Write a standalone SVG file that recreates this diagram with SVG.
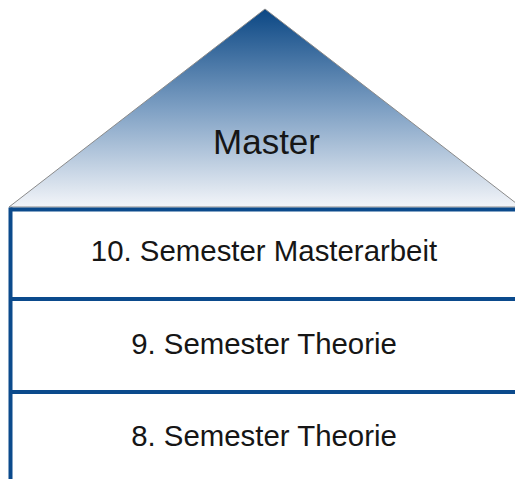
<svg xmlns="http://www.w3.org/2000/svg" width="515" height="479" viewBox="0 0 515 479">
<defs>
<linearGradient id="roofGrad" x1="0" y1="0" x2="0" y2="1">
<stop offset="0" stop-color="#0b4784"/>
<stop offset="0.5" stop-color="#7d9fc3"/>
<stop offset="1" stop-color="#f3f5f9"/>
</linearGradient>
</defs>
<style>
.lbl{font-family:"Liberation Sans",Arial,sans-serif;fill:#161616;text-anchor:middle}
.band{stroke:#0b4a8c;stroke-width:4;fill:none}
</style>
<g id="roof">
<polygon points="265,9 9,207 521,207" fill="url(#roofGrad)" stroke="#8a8a8a" stroke-width="1"/>
<text class="lbl" x="266.5" y="154" font-size="35">Master</text>
</g>
<g id="sem10">
<text class="lbl" x="264" y="261" font-size="29.4">10. Semester Masterarbeit</text>
</g>
<g id="sem9">
<text class="lbl" x="264" y="354" font-size="29.4">9. Semester Theorie</text>
</g>
<g id="sem8">
<text class="lbl" x="264" y="446" font-size="29.4">8. Semester Theorie</text>
</g>
<g id="connectors">
<line class="band" x1="10.5" y1="209.5" x2="520" y2="209.5"/>
<line class="band" x1="10.5" y1="299" x2="520" y2="299"/>
<line class="band" x1="10.5" y1="392" x2="520" y2="392"/>
<line class="band" x1="10.5" y1="207.5" x2="10.5" y2="485"/>
</g>
</svg>
